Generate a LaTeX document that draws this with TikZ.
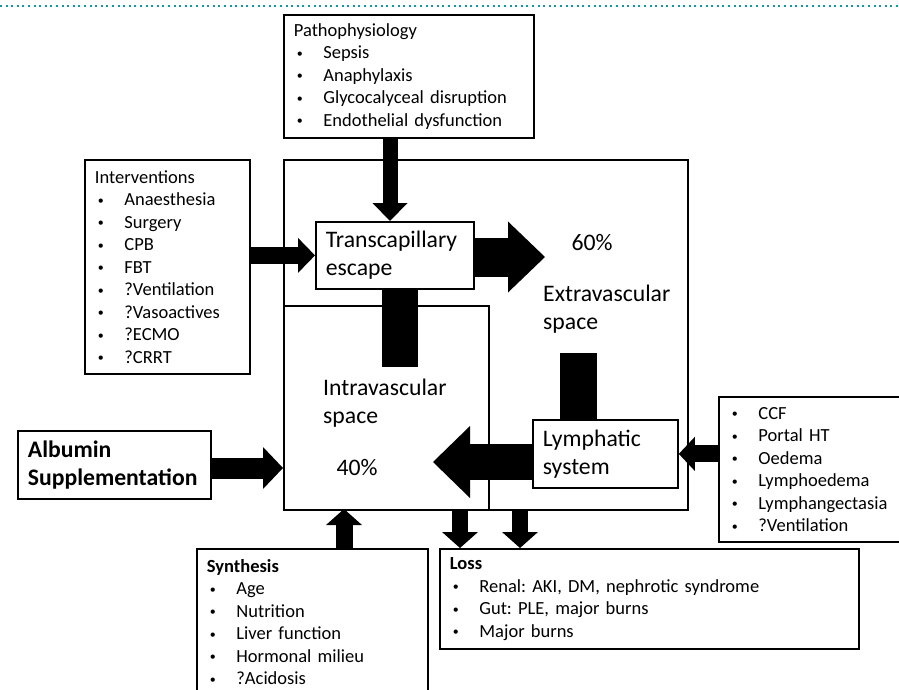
\documentclass[tikz,border=0pt]{standalone}
\usepackage{fontspec}
\setmainfont{Carlito}
\usepackage{xcolor}
\usepackage{tikz}
\usetikzlibrary{arrows.meta}
\frenchspacing

\definecolor{dotteal}{RGB}{20,150,165}
\newcommand{\smallfont}{\fontsize{18.5pt}{22.5pt}\selectfont}
\newcommand{\bigfont}{\fontsize{23.7pt}{28pt}\selectfont}
\newcommand{\itm}[1]{\makebox[29.5pt][l]{\hspace{3pt}\raisebox{1.5pt}{\fontsize{12pt}{12pt}\selectfont\textbullet}}#1}

\tikzset{
  box/.style={draw, line width=1.8pt, fill=white, anchor=north west, align=left, inner xsep=10pt, inner ysep=0pt, font=\smallfont},
  bigbox/.style={box, font=\bigfont},
  spacebox/.style={draw, line width=1.5pt, anchor=north west, inner sep=0pt},
  spacetext/.style={inner sep=0pt, align=left, font=\bigfont},
  fat/.style={line width=#1},
}

\begin{document}
\begin{tikzpicture}[x=1pt,y=-1pt]
\useasboundingbox (0,0) rectangle (899,690);
\clip (0,0) rectangle (899,690);
\draw[dotteal, line width=2pt, dash pattern=on 2pt off 3.6pt] (0,6) -- (899,6);

% the two spaces
\node at (283,159) (extra) [spacebox, minimum width=404pt, minimum height=350pt] {};
\node at (283,305) (intra) [spacebox, fill=white, minimum width=205pt, minimum height=204pt] {};
\node at (592,243) (pct60) [spacetext] {60\%};
\node at (543,309) (extratext) [spacetext, anchor=west] {Extravascular\\space};
\node at (323,403) (intratext) [spacetext, anchor=west] {Intravascular\\space};
\node at (357,468) (pct40) [spacetext] {40\%};

% boxes
\node at (283,14) (patho) [box, minimum width=250pt, text width=230pt, minimum height=123pt] {Pathophysiology\\\itm{Sepsis}\\\itm{Anaphylaxis}\\\itm{Glycocalyceal disruption}\\\itm{Endothelial dysfunction}};
\node at (84,159) (interv) [box, minimum width=165pt, text width=145pt, minimum height=214pt] {Interventions\\\itm{Anaesthesia}\\\itm{Surgery}\\\itm{CPB}\\\itm{FBT}\\\itm{?Ventilation}\\\itm{?Vasoactives}\\\itm{?ECMO}\\\itm{?CRRT}};
\node at (315,221) (trans) [bigbox, minimum width=158pt, text width=138pt, minimum height=67pt] {Transcapillary\\escape};
\node at (532,419) (lymph) [bigbox, minimum width=145pt, text width=125pt, minimum height=68pt] {Lymphatic\\system};
\node at (17,430) (albumin) [bigbox, minimum width=193pt, text width=173pt, minimum height=68pt] {\textbf{Albumin}\\\textbf{Supplementation}};
\node at (718,396) (ccf) [box, minimum width=200pt, text width=180pt, minimum height=145pt] {\itm{CCF}\\\itm{Portal HT}\\\itm{Oedema}\\\itm{Lymphoedema}\\\itm{Lymphangectasia}\\\itm{?Ventilation}};
\node at (196,548) (synth) [box, minimum width=231pt, text width=211pt, minimum height=146pt] {\textbf{Synthesis}\\\itm{Age}\\\itm{Nutrition}\\\itm{Liver function}\\\itm{Hormonal milieu}\\\itm{?Acidosis}};
\node at (439,548) (loss) [box, minimum width=419pt, text width=399pt, minimum height=100pt] {\textbf{Loss}\\\itm{Renal: AKI, DM, nephrotic syndrome}\\\itm{Gut: PLE, major burns}\\\itm{Major burns}};

% block arrows
\coordinate (pt) at (390,221);
\draw[fat=15pt, -{Triangle[width=35pt,length=18pt,line width=0pt]}] (pt |- patho.south) -- (pt);
\draw[fat=17pt, -{Triangle[width=35pt,length=17pt,line width=0pt]}] (interv.east |- trans.west) -- (trans.west);
\coordinate (ex) at (545,257);
\draw[fat=39pt, -{Triangle[width=71pt,length=37pt,line width=0pt]}] (trans.east |- ex) -- (ex);
\coordinate (tb) at (400,367);
\draw[fat=36pt] (tb |- trans.south) -- (tb);
\coordinate (lb) at (578,353);
\draw[fat=37pt] (lb |- lymph.north) -- (lb);
\coordinate (li) at (433,462);
\draw[fat=36pt, -{Triangle[width=72pt,length=37pt,line width=0pt]}] (lymph.west |- li) -- (li);
\draw[fat=17pt, -{Triangle[width=34pt,length=16pt,line width=0pt]}] (ccf.west |- lymph.east) -- (lymph.east);
\coordinate (ai) at (283,468);
\draw[fat=21pt, -{Triangle[width=42pt,length=20pt,line width=0pt]}] (albumin.east |- ai) -- (ai);
\coordinate (si) at (344,509);
\draw[fat=17pt, -{Triangle[width=36pt,length=16pt,line width=0pt]}] (si |- synth.north) -- (si);
\foreach \x in {460,520}
  \draw[fat=16pt, -{Triangle[width=36pt,length=16pt,line width=0pt]}] (intra.south -| \x,0) -- (loss.north -| \x,0);
\end{tikzpicture}
\end{document}
